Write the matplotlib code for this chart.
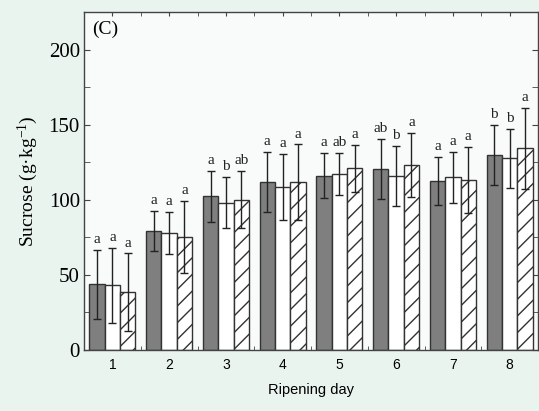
import matplotlib
matplotlib.use("Agg")
import matplotlib.pyplot as plt
import numpy as np

days = [1, 2, 3, 4, 5, 6, 7, 8]

# three treatments: grey, white, hatched
grey_mean = [43.8, 79.3, 102.4, 111.8, 116.0, 120.4, 112.4, 129.8]
grey_err = [23, 13.5, 17, 20, 15, 20, 16, 20]
white_mean = [43.0, 77.8, 98.0, 108.7, 117.3, 115.8, 115.1, 127.6]
white_err = [25, 14, 17, 22, 14, 20, 17, 19.5]
hatch_mean = [38.4, 75.3, 100.0, 111.8, 120.9, 123.1, 113.3, 134.2]
hatch_err = [26, 24, 19, 25, 15.5, 21.5, 22, 27]

grey_lab = ["a", "a", "a", "a", "a", "ab", "a", "b"]
white_lab = ["a", "a", "b", "a", "ab", "b", "a", "b"]
hatch_lab = ["a", "a", "ab", "a", "a", "a", "a", "a"]

serif = "Liberation Serif"
sans = "Liberation Sans"
plt.rcParams["mathtext.fontset"] = "custom"
plt.rcParams["mathtext.rm"] = serif
plt.rcParams["mathtext.it"] = serif + ":italic"

fig = plt.figure(figsize=(5.39, 4.11), dpi=100, facecolor="#e9f4ef")
ax = fig.add_axes([84 / 539, (411 - 350) / 411, (538 - 84) / 539, (350 - 12) / 411])
ax.set_facecolor("#f8fbfa")

x = np.array(days, dtype=float)
w = 0.27
series = [
    (grey_mean, grey_err, grey_lab, -w, "#7f7f7f", ""),
    (white_mean, white_err, white_lab, 0.0, "white", ""),
    (hatch_mean, hatch_err, hatch_lab, w, "white", "//"),
]
for mean, err, lab, off, col, hat in series:
    ax.bar(x + off, mean, width=w, color=col, edgecolor="#333333",
           linewidth=1.0, hatch=hat, zorder=2)
    ax.errorbar(x + off, mean, yerr=err, fmt="none", ecolor="#222222",
                elinewidth=1.0, capsize=3, capthick=1.0, zorder=3)
    for xi, m, e, t in zip(x + off, mean, err, lab):
        ax.text(xi, m + e + 2.5, t, ha="center", va="bottom",
                fontsize=11, family=serif, color="#222222")

ax.set_xlim(0.5, 8.5)
ax.set_ylim(0, 225)
ax.set_xticks(days)
ax.set_xticks(np.arange(0.5, 8.6, 0.5), minor=True)
ax.set_xticklabels([str(d) for d in days], family=sans, fontsize=10)
ax.set_yticks([0, 50, 100, 150, 200])
ax.set_yticks(np.arange(0, 226, 25), minor=True)
for t in ax.get_yticklabels():
    t.set_family(serif)
    t.set_fontsize(15)
ax.tick_params(axis="both", which="both", direction="in", top=True, right=True,
               color="#444444")
ax.tick_params(axis="x", which="major", length=3, pad=6)
ax.tick_params(axis="x", which="minor", length=3)
ax.tick_params(axis="y", which="both", length=4, pad=3)
for s in ax.spines.values():
    s.set_color("#444444")
    s.set_linewidth(1.0)

ax.set_xlabel("Ripening day", family=sans, fontsize=10.5, labelpad=8)
ax.set_ylabel("Sucrose (g·kg$^{\\mathrm{-1}}$)", family=serif, fontsize=14, labelpad=6)
ax.text(0.018, 0.975, "(C)", transform=ax.transAxes, ha="left", va="top",
        family=serif, fontsize=14)

fig.savefig("out.png", dpi=100, facecolor=fig.get_facecolor())
